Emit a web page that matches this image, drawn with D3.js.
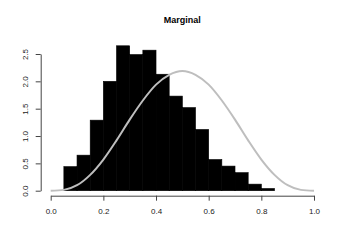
<!DOCTYPE html>
<html><head><meta charset="utf-8">
<script src="https://cdn.jsdelivr.net/npm/d3@7"></script>
<style>body{margin:0;background:#fff}svg{display:block;font-family:"Liberation Sans",Arial,sans-serif}</style>
</head><body>
<script>
const binStarts = [0.05,0.10,0.15,0.20,0.25,0.30,0.35,0.40,0.45,0.50,0.55,0.60,0.65,0.70,0.75,0.80];
const binWidth = 0.05;
const density = [0.44,0.65,1.29,2.00,2.65,2.49,2.57,2.13,1.73,1.52,1.12,0.57,0.45,0.33,0.12,0.04];
const curveX = [0,0.05,0.10,0.15,0.20,0.25,0.30,0.35,0.40,0.45,0.50,0.55,0.60,0.65,0.70,0.75,0.80,0.85,0.90,0.95,1.00];
const curveY = [0,0.015,0.10,0.29,0.57,0.92,1.30,1.65,1.94,2.12,2.19,2.12,1.94,1.65,1.30,0.92,0.57,0.29,0.10,0.015,0];
const xTicks = [0,0.2,0.4,0.6,0.8,1.0];
const yTicks = [0,0.5,1.0,1.5,2.0,2.5];
const title = "Marginal";

const W=345,H=247;
const svg=d3.select("body").append("svg").attr("width",W).attr("height",H);
const x=d3.scaleLinear().domain([0,1]).range([50.7,314]);
const y=d3.scaleLinear().domain([0,2.5]).range([190.7,54]);

svg.append("g").selectAll("rect").data(density).join("rect")
  .attr("x",(d,i)=>x(binStarts[i]))
  .attr("width",(d,i)=>x(binStarts[i]+binWidth)-x(binStarts[i]))
  .attr("y",d=>y(d)).attr("height",d=>y(0)-y(d))
  .attr("fill","#000").attr("stroke","#000").attr("stroke-width",0.6);

const line=d3.line().x(d=>x(d[0])).y(d=>y(d[1])).curve(d3.curveMonotoneX);
svg.append("path").datum(curveX.map((v,i)=>[v,curveY[i]]))
  .attr("d",line).attr("fill","none").attr("stroke","#bebebe").attr("stroke-width",2);

const xa=svg.append("g").attr("transform","translate(0,195.7)")
  .call(d3.axisBottom(x).tickValues(xTicks).tickFormat(d3.format(".1f")).tickSize(5).tickSizeOuter(0));
const ya=svg.append("g").attr("transform","translate(40.7,0)")
  .call(d3.axisLeft(y).tickValues(yTicks).tickFormat(d3.format(".1f")).tickSize(5).tickSizeOuter(0));
[xa,ya].forEach(a=>{a.select(".domain").attr("stroke","#444");a.selectAll(".tick line").attr("stroke","#444");
  a.selectAll("text").attr("font-size",8).attr("fill","#222").attr("font-family","Liberation Sans, Arial, sans-serif");});
xa.selectAll("text").attr("dy",null).attr("y",18.5);
ya.selectAll(".tick text").attr("x",null).attr("dy",null)
  .attr("transform","translate(-12.5,0) rotate(-90)").attr("text-anchor","middle").attr("y",0);

svg.append("text").attr("x",182.3).attr("y",22.7).attr("text-anchor","middle")
  .attr("font-size",9).attr("font-weight","bold").text(title);
</script>
</body></html>
